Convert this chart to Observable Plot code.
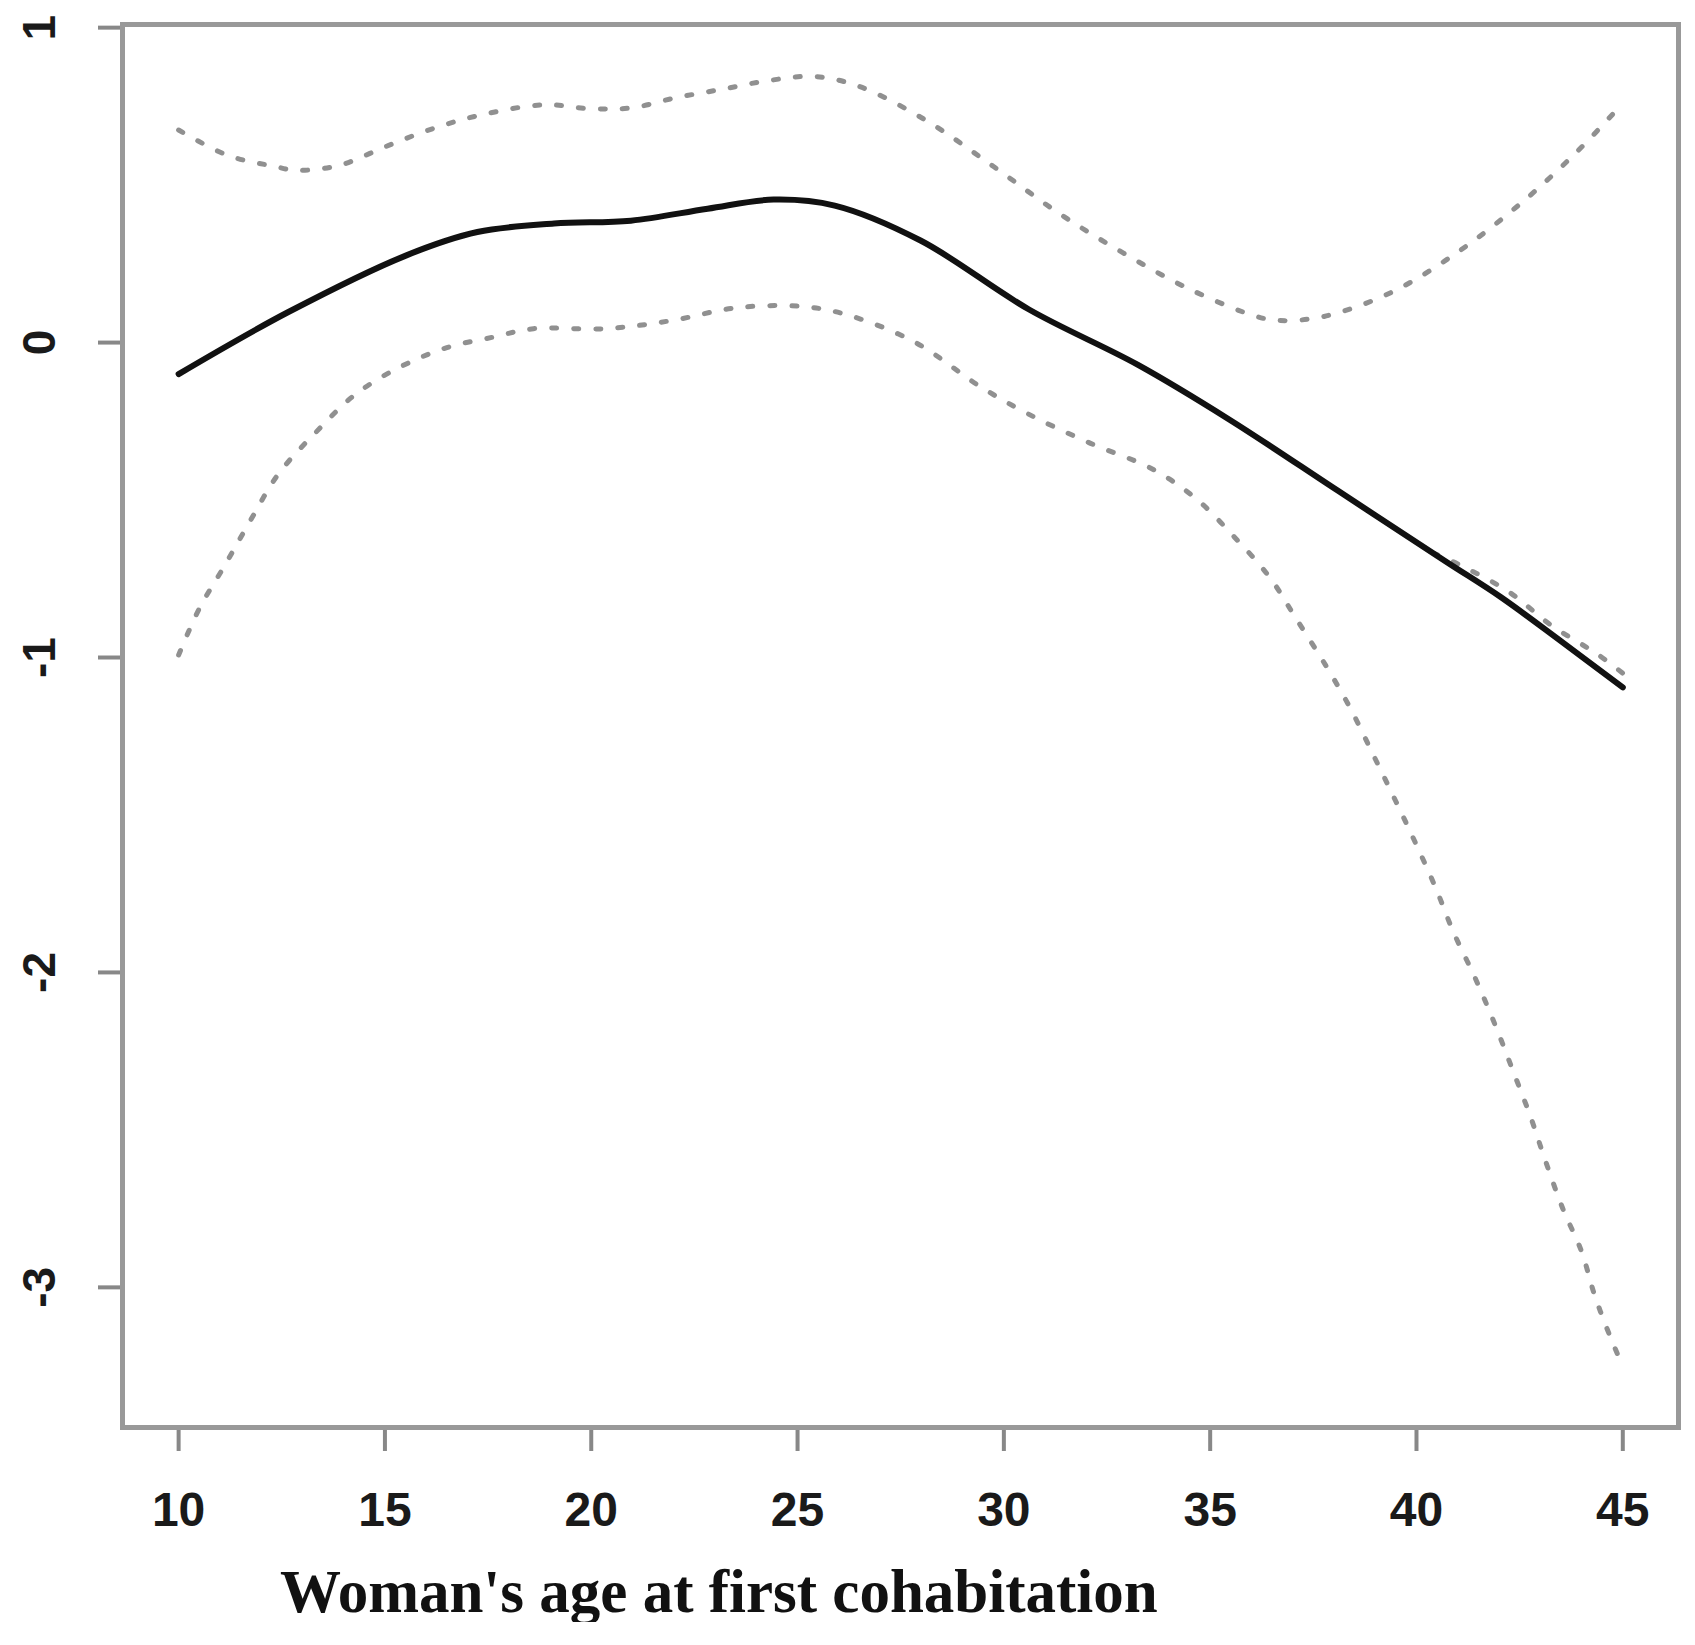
<!DOCTYPE html>
<html>
<head>
<meta charset="utf-8">
<script src="https://cdn.jsdelivr.net/npm/d3@7"></script>
<script src="https://cdn.jsdelivr.net/npm/@observablehq/plot@0.6"></script>
<style>
  html, body { margin: 0; padding: 0; background: #fff; }
  #title { font-family: "Liberation Serif", "DejaVu Serif", serif; font-weight: bold; font-size: 61px; line-height: 60px; color: #111; padding-left: 280px; margin-top: 17px; white-space: nowrap; }
</style>
</head>
<body>
<div id="chart"></div>
<div id="title">Woman's age at first cohabitation</div>
<script>
const xTicks = [10, 15, 20, 25, 30, 35, 40, 45];
const yTicks = [-3, -2, -1, 0, 1];

const fitAge = [10, 12.66, 15.52, 17.24, 19.1, 20.96, 22.82, 24.42, 25.9, 27.98, 30.61, 33.24, 35.46, 38.09, 40.71, 42.04, 43.5, 45];
const fitVal = [-0.10, 0.097, 0.277, 0.351, 0.378, 0.387, 0.425, 0.454, 0.435, 0.324, 0.105, -0.07, -0.244, -0.47, -0.695, -0.808, -0.948, -1.095];

const upperAge = [10, 11.18, 12.3, 12.86, 13.9, 15.01, 16.13, 17.24, 18.84, 19.96, 20.96, 22.07, 23.2, 24.3, 25.4, 26.48, 28.12, 29.75, 31.33, 32.9, 34.48, 36.12, 36.7, 37.76, 39.4, 41.03, 42.6, 43.92, 45];
const upperVal = [0.675, 0.595, 0.56, 0.547, 0.563, 0.622, 0.678, 0.72, 0.755, 0.743, 0.745, 0.778, 0.805, 0.832, 0.845, 0.814, 0.705, 0.559, 0.411, 0.284, 0.171, 0.083, 0.07, 0.083, 0.16, 0.29, 0.45, 0.61, 0.76];

const lowerAge = [10, 10.5, 11.13, 11.74, 12.42, 13.34, 14.29, 15.39, 16.5, 17.61, 18.6, 20.35, 21.95, 23.55, 25.17, 26.28, 27.86, 29.43, 30.61, 32.05, 33.62, 34.67, 35.59, 36.44, 37.09, 37.8, 38.4, 38.96, 39.49, 39.98, 40.46, 40.9, 41.43, 41.91, 42.34, 42.76, 43.13, 43.54, 44.0, 44.32, 44.73, 45];
const lowerVal = [-0.992, -0.845, -0.705, -0.565, -0.417, -0.283, -0.164, -0.076, -0.016, 0.017, 0.044, 0.044, 0.07, 0.111, 0.114, 0.085, 0.0, -0.14, -0.228, -0.317, -0.403, -0.497, -0.618, -0.745, -0.878, -1.025, -1.162, -1.311, -1.454, -1.59, -1.73, -1.873, -2.02, -2.168, -2.313, -2.457, -2.60, -2.748, -2.886, -3.026, -3.168, -3.25];

const extraAge = [40.4, 41.03, 42.22, 43.27, 44.39, 45];
const extraVal = [-0.668, -0.705, -0.79, -0.898, -0.99, -1.05];

const toRows = (xs, ys) => xs.map((x, i) => ({x, y: ys[i]}));
const fit = toRows(fitAge, fitVal);
const upper = toRows(upperAge, upperVal);
const lower = toRows(lowerAge, lowerVal);
const extra = toRows(extraAge, extraVal);

const dotted = {x: "x", y: "y", stroke: "#909090", strokeWidth: 5, strokeDasharray: "5 17", curve: "catmull-rom"};

const chart = Plot.plot({
  width: 1695,
  height: 1545,
  marginLeft: 122,
  marginRight: 17,
  marginTop: 24,
  marginBottom: 118,
  x: {domain: [8.64, 46.35]},
  y: {domain: [-3.445, 1.01]},
  style: {background: "white", overflow: "visible"},
  marks: [
    Plot.line(upper, dotted),
    Plot.line(lower, dotted),
    Plot.line(extra, dotted),
    Plot.line(fit, {x: "x", y: "y", stroke: "#111", strokeWidth: 6, curve: "catmull-rom"}),
    Plot.axisX({ticks: xTicks, tickSize: 24, tickPadding: 40, tickFormat: d => String(d), label: null,
      stroke: "#888", strokeWidth: 4, strokeOpacity: 1, fill: "#1a1a1a",
      fontSize: 48, fontWeight: "bold", fontFamily: "Liberation Sans, Arial, sans-serif"}),
    Plot.axisY({ticks: yTicks, tickSize: 24, tickFormat: () => "", label: null, stroke: "#888", strokeWidth: 4, strokeOpacity: 1}),
    Plot.text(yTicks, {y: d => d, text: d => String(d), frameAnchor: "left", dx: -82, rotate: -90,
      textAnchor: "middle", lineAnchor: "middle", fill: "#1a1a1a",
      fontSize: 46, fontWeight: "bold", fontFamily: "Liberation Sans, Arial, sans-serif"}),
    Plot.frame({stroke: "#999", strokeWidth: 5})
  ]
});
document.getElementById("chart").appendChild(chart);
</script>
</body>
</html>
